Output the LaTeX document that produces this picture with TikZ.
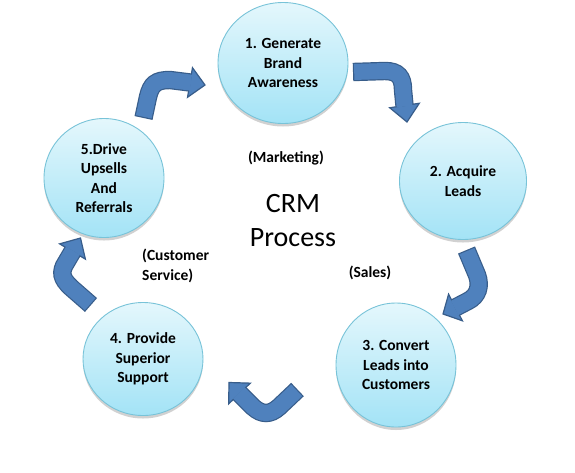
\documentclass[tikz,border=0pt]{standalone}
\usepackage{fontspec}
\setmainfont{Carlito}
\usetikzlibrary{shapes.geometric,shadows,calc}
\definecolor{arrowblue}{HTML}{4F81BD}
\definecolor{arrowline}{HTML}{385D8A}
\definecolor{circtop}{HTML}{E4F7FC}
\definecolor{circbot}{HTML}{A3E3F6}
\definecolor{circline}{HTML}{78C3D8}
\newcommand{\crmarrow}[3]{%
  \draw[shaftout] #1;
  \draw[headshape] (#3) -- ($(#2)!15pt!90:(#3)$) -- ($(#2)!15pt!-90:(#3)$) -- cycle;
  \draw[shaftin] #1;
}
\begin{document}
\begin{tikzpicture}[x=1pt,y=-1pt,
  stage/.style={ellipse, draw=circline, line width=0.9pt, top color=circtop, bottom color=circbot,
    inner sep=0pt, align=center, font=\fontsize{15.5}{19.5}\selectfont\bfseries,
    drop shadow={shadow xshift=0pt, shadow yshift=-3pt, opacity=0.18, fill=black}},
  lbl/.style={font=\fontsize{15.5}{19.5}\selectfont\bfseries, inner sep=0pt},
  shaftout/.style={line width=18.4pt, draw=arrowline},
  shaftin/.style={line width=16pt, draw=arrowblue, shorten <=1.2pt, shorten >=-1pt},
  headshape/.style={fill=arrowblue, draw=arrowline, line width=1.2pt, line join=miter},
]
\useasboundingbox (0,0) rectangle (575,472);

% stages
\node[stage, minimum width=130pt, minimum height=121pt] (s1) at (283,63) {1. Generate\\Brand\\Awareness};
\node[stage, minimum width=127pt, minimum height=117pt] (s2) at (463,181) {2. Acquire\\Leads};
\node[stage, minimum width=120pt, minimum height=124pt] (s3) at (396,365) {3. Convert\\Leads into\\Customers};
\node[stage, minimum width=120pt, minimum height=113pt] (s4) at (143,359) {4. Provide\\Superior\\Support};
\node[stage, minimum width=120pt, minimum height=119pt] (s5) at (104,178) {5.Drive\\Upsells\\And\\Referrals};

% labels
\node[lbl] (mkt) at (286,158) {(Marketing)};
\node[lbl, align=left, anchor=west] (cs) at (142,266) {(Customer\\Service)};
\node[lbl] (sales) at (370,273) {(Sales)};
\node[font=\fontsize{28}{34}\selectfont, align=center, inner sep=0pt] (crm) at (293,221) {CRM\\Process};

% arrow 5 -> 1
\coordinate (a1s) at (143.5,118);
\coordinate (a1b) at (190,82.5);
\coordinate (a1t) at (205,85);
\crmarrow{(a1s) -- (148,97) .. controls (151,84) and (156,80) .. (170,80) -- (a1b)}{a1b}{a1t}

% arrow 1 -> 2
\coordinate (a2s) at (353,72);
\coordinate (a2b) at (404.5,105.5);
\coordinate (a2t) at (407,122);
\crmarrow{(a2s) -- (385,71) .. controls (398,71) and (403,77) .. (403,90) -- (a2b)}{a2b}{a2t}

% arrow 2 -> 3
\coordinate (a3s) at (466.5,250);
\coordinate (a3b) at (455.5,307.5);
\coordinate (a3t) at (443,314);
\crmarrow{(a3s) -- (477,275) .. controls (481,286) and (478,296) .. (468,301) -- (a3b)}{a3b}{a3t}

% arrow 3 -> 4
\coordinate (a4s) at (297.5,389.5);
\coordinate (a4b) at (239.5,393.5);
\coordinate (a4t) at (229,382.5);
\crmarrow{(a4s) -- (279,407) .. controls (270,415) and (262,415) .. (253,407) -- (a4b)}{a4b}{a4t}

% arrow 4 -> 5
\coordinate (a5s) at (91,305);
\coordinate (a5b) at (72.5,251.5);
\coordinate (a5t) at (80.5,238);
\crmarrow{(a5s) -- (75,291) .. controls (63,281) and (60,275) .. (64,266) -- (a5b)}{a5b}{a5t}
\end{tikzpicture}
\end{document}
